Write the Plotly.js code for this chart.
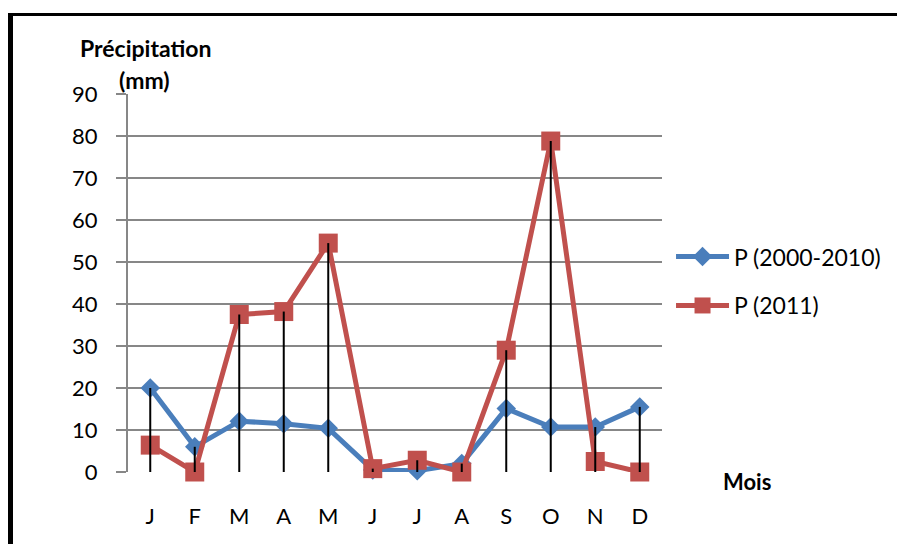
<!DOCTYPE html>
<html>
<head>
<meta charset="utf-8">
<script src="https://cdn.plot.ly/plotly-3.0.1.min.js"></script>
<style>
html,body{margin:0;padding:0;background:#fff;}
#wrap{position:relative;width:897px;height:544px;overflow:hidden;}
#chart{position:absolute;left:0;top:0;width:897px;height:544px;}
#frame{position:absolute;left:8px;top:13px;width:900px;height:600px;border-top:3px solid #000;border-left:5px solid #000;pointer-events:none;}
</style>
</head>
<body>
<div id="wrap"><div id="chart"></div><div id="frame"></div></div>
<script>
const months = ["J","F","M","A","M","J","J","A","S","O","N","D"];
const p20002010 = [20.0, 6.0, 12.1, 11.5, 10.4, 0.5, 0.3, 2.0, 15.1, 10.7, 10.7, 15.5];
const p2011 = [6.4, 0, 37.5, 38.2, 54.5, 0.8, 2.8, 0, 29.0, 78.8, 2.5, 0];
const seriesNames = ["P (2000-2010)", "P (2011)"];
const yTicks = [0,10,20,30,40,50,60,70,80,90];

const idx = months.map((m,i)=>i);
const font = "Lato, 'Open Sans', sans-serif";

// drop lines from highest value down to axis
const dx = [], dy = [];
idx.forEach(i => {
  dx.push(i, i, null);
  dy.push(0, Math.max(p20002010[i], p2011[i]), null);
});

const traces = [
  {x: idx, y: p20002010, name: seriesNames[0], type: 'scatter', mode: 'lines+markers',
   line: {color: '#4A7EBB', width: 5}, marker: {symbol: 'diamond', size: 15, color: '#4A7EBB'},
   legendgroup: 'a', cliponaxis: false},
  {x: idx, y: p2011, name: seriesNames[1], type: 'scatter', mode: 'lines+markers',
   line: {color: '#C0504D', width: 5}, marker: {symbol: 'square', size: 19, color: '#C0504D'},
   legendgroup: 'b', cliponaxis: false},
  {x: dx, y: dy, type: 'scatter', mode: 'lines', line: {color: '#000', width: 2},
   showlegend: false, hoverinfo: 'skip', connectgaps: false, cliponaxis: false}
];

const layout = {
  width: 897, height: 544,
  margin: {l: 128, r: 234, t: 94, b: 72, pad: 0},
  paper_bgcolor: '#fff', plot_bgcolor: '#fff',
  font: {family: font, size: 22, color: '#000'},
  showlegend: true,
  legend: {x: 1.015, xanchor: 'left', y: 0.505, yanchor: 'middle',
           font: {family: font, size: 23, color: '#000'},
           traceorder: 'grouped', tracegroupgap: 16, itemwidth: 53},
  xaxis: {
    range: [-0.5, 11.5], tickmode: 'array', tickvals: idx, ticktext: months,
    showgrid: false, zeroline: false, showline: false, ticks: '',
    ticklen: 0, ticklabelstandoff: 29, tickfont: {family: font, size: 22}, fixedrange: true
  },
  yaxis: {
    range: [0, 90], tickmode: 'array', tickvals: yTicks, ticktext: yTicks.map(String),
    showgrid: true, gridcolor: '#878787', gridwidth: 2,
    zeroline: false, showline: true, linecolor: '#878787', linewidth: 2,
    ticks: 'outside', ticklen: 10, tickcolor: '#878787', tickwidth: 2,
    ticklabelstandoff: 14,
    tickfont: {family: font, size: 22}, fixedrange: true
  },
  annotations: [
    {text: '<b>Précipitation</b>', xref: 'paper', yref: 'paper', x: -0.094, y: 1.122,
     xanchor: 'left', yanchor: 'middle', showarrow: false, font: {family: font, size: 23}},
    {text: '<b>(mm)</b>', xref: 'paper', yref: 'paper', x: -0.021, y: 1.037,
     xanchor: 'left', yanchor: 'middle', showarrow: false, font: {family: font, size: 23}},
    {text: '<b>Mois</b>', xref: 'paper', yref: 'paper', x: 1.11, y: -0.024,
     xanchor: 'left', yanchor: 'middle', showarrow: false, font: {family: font, size: 22}}
  ]
};

Plotly.newPlot('chart', traces, layout, {staticPlot: true, displayModeBar: false});
</script>
</body>
</html>
